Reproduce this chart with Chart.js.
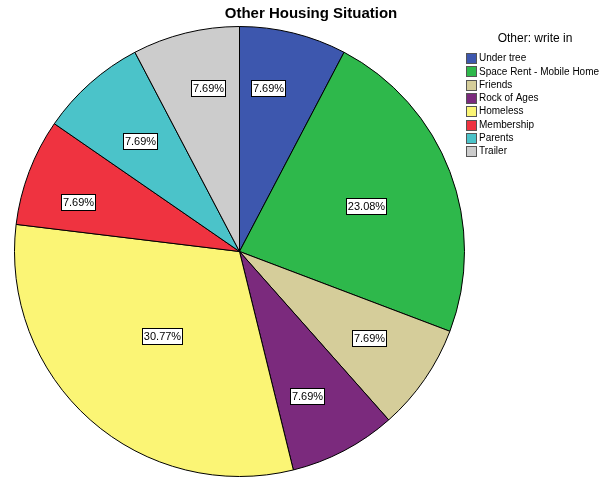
<!DOCTYPE html>
<html>
<head>
<meta charset="utf-8">
<script src="https://cdn.jsdelivr.net/npm/chart.js@4/dist/chart.umd.min.js"></script>
<style>
html,body{margin:0;padding:0;background:#fff;}
#wrap{width:608px;height:479px;position:relative;}
</style>
</head>
<body>
<div id="wrap"><canvas id="c" width="608" height="479"></canvas></div>
<script>
const title = "Other Housing Situation";
const legendTitle = "Other: write in";
const categories = ["Under tree","Space Rent - Mobile Home","Friends","Rock of Ages","Homeless","Membership","Parents","Trailer"];
const counts = [1,3,1,1,4,1,1,1];
const percentLabels = ["7.69%","23.08%","7.69%","7.69%","30.77%","7.69%","7.69%","7.69%"];
const colors = ["#3d57ae","#2eb84b","#d5cd9a","#7b2a7d","#fbf575","#ef3340","#4bc3c9","#cccccc"];

const labelPlugin = {
  id: 'spssLabels',
  afterDraw(chart, args, opts) {
    const ctx = chart.ctx;
    const meta = chart.getDatasetMeta(0);
    ctx.save();
    ctx.font = '11px Arial, "Liberation Sans", sans-serif';
    ctx.textBaseline = 'middle';
    ctx.textAlign = 'center';
    meta.data.forEach((arc, i) => {
      const p = arc.getProps(['x','y','startAngle','endAngle','outerRadius'], true);
      const a = p.startAngle + (p.endAngle - p.startAngle) * opts.angleFractions[i];
      const f = opts.radiusFactors[i];
      const x = p.x + Math.cos(a) * p.outerRadius * f;
      const y = p.y + Math.sin(a) * p.outerRadius * f;
      const txt = percentLabels[i];
      const w = Math.round(ctx.measureText(txt).width) + 3;
      const h = 16;
      const bx = Math.round(x - w/2) + 0.5, by = Math.round(y - h/2) + 0.5;
      ctx.fillStyle = '#fff';
      ctx.fillRect(bx, by, w, h);
      ctx.strokeStyle = '#000';
      ctx.lineWidth = 1;
      ctx.strokeRect(bx, by, w, h);
      ctx.fillStyle = '#000';
      ctx.fillText(txt, bx + w/2, by + h/2 + 0.5);
    });
    // Title
    ctx.font = 'bold 15px Arial, "Liberation Sans", sans-serif';
    ctx.fillText(title, 311, 14);
    // Legend
    ctx.font = '12px Arial, "Liberation Sans", sans-serif';
    ctx.fillText(legendTitle, 535, 39);
    ctx.font = '10px Arial, "Liberation Sans", sans-serif';
    ctx.textAlign = 'left';
    categories.forEach((lab, i) => {
      const y = 58 + i * 13.3;
      const by = Math.round(y - 5);
      ctx.fillStyle = colors[i];
      ctx.fillRect(466, by, 10, 10);
      ctx.strokeStyle = '#555';
      ctx.strokeRect(466.5, by + 0.5, 10, 10);
      ctx.fillStyle = '#000';
      ctx.fillText(lab, 479, y + 0.5);
    });
    ctx.restore();
  }
};

new Chart(document.getElementById('c'), {
  type: 'pie',
  data: {
    labels: categories,
    datasets: [{
      data: counts,
      backgroundColor: colors,
      borderColor: '#000',
      borderWidth: 1
    }]
  },
  options: {
    responsive: false,
    animation: false,
    layout: { padding: { left: 14, right: 143, top: 26, bottom: 2 } },
    plugins: {
      legend: { display: false },
      tooltip: { enabled: false },
      title: { display: false },
      spssLabels: {
        angleFractions: [0.36, 0.513, 0.467, 0.596, 0.507, 0.371, 0.488, 0.606],
        radiusFactors: [0.74, 0.595, 0.69, 0.71, 0.51, 0.75, 0.66, 0.74]
      }
    }
  },
  plugins: [labelPlugin]
});
</script>
</body>
</html>
